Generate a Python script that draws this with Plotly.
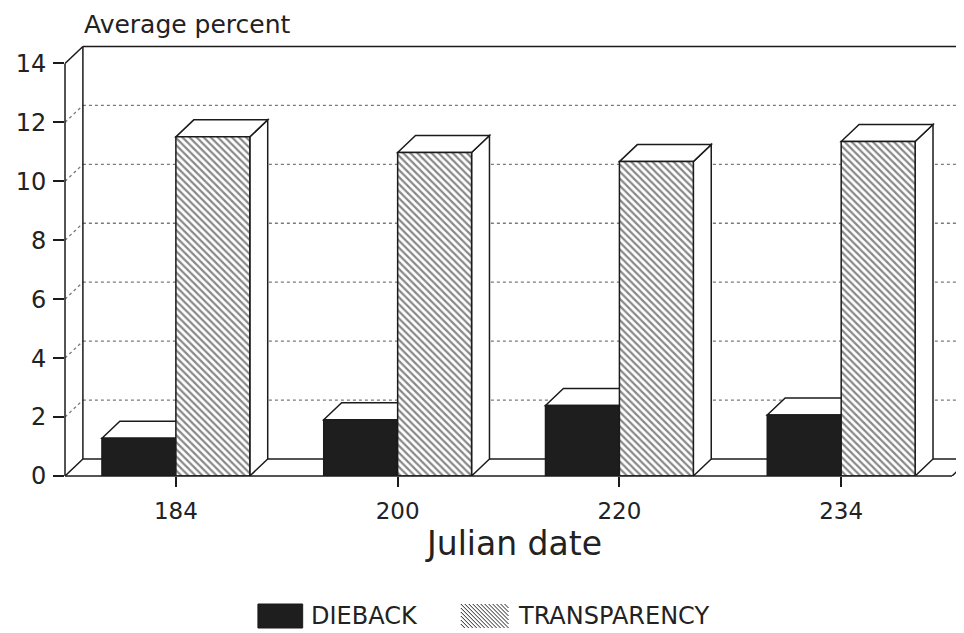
import plotly.graph_objects as go

# ---------------- data ----------------
categories = ["184", "200", "220", "234"]
dieback = [1.28, 1.91, 2.39, 2.07]
transparency = [11.51, 10.98, 10.67, 11.35]
y_ticks = [0, 2, 4, 6, 8, 10, 12, 14]
series_names = ["DIEBACK", "TRANSPARENCY"]

# ---------------- layout constants ----------------
W, H = 964, 633
OFF = 8                      # page body margin offset
PL, PT = 60 - OFF, 34 - OFF
PW, PH = 904, 442
PR, PB = W - PL - PW, H - PT - PH
PX_PER_CAT = 223.0
X_MIN = -0.5
X_MAX = X_MIN + PW / PX_PER_CAT
Y_MIN, Y_MAX = 0, 15
PX_PER_UNIT = PH / (Y_MAX - Y_MIN)
BARGAP = 1 / 3
BAR_W = (1 - BARGAP) / 2
DEPTH_X = 18 / PX_PER_CAT      # 3-D depth in data units
DEPTH_Y = 17 / PX_PER_UNIT
X_LO, X_HI = -0.5, len(categories) - 0.5
Y_TOP = max(y_ticks)

INK = "#1b1b1b"
GRID = "#7a7a7a"
FONT = "DejaVu Sans"

xpos = list(range(len(categories)))

fig = go.Figure()
fig.add_trace(go.Bar(
    x=xpos, y=dieback, name=series_names[0], showlegend=False,
    marker=dict(color="#1e1e1e", line=dict(color=INK, width=1.5)),
))
fig.add_trace(go.Bar(
    x=xpos, y=transparency, name=series_names[1], showlegend=False,
    marker=dict(color="white", line=dict(color=INK, width=1.5),
                pattern=dict(shape="\\", fgcolor="#111111", bgcolor="white",
                             size=5, solidity=0.45)),
))

shapes = []
line_solid = dict(color=INK, width=1.5)
line_dot = dict(color=GRID, width=1.3, dash="dot")

# back-wall grid lines and left-wall diagonals
for v in y_ticks[1:-1]:
    shapes.append(dict(type="line", xref="x", yref="y", layer="below",
                       x0=X_LO + DEPTH_X, x1=X_MAX + 1, y0=v + DEPTH_Y, y1=v + DEPTH_Y,
                       line=line_dot))
    shapes.append(dict(type="line", xref="x", yref="y", layer="below",
                       x0=X_LO, x1=X_LO + DEPTH_X, y0=v, y1=v + DEPTH_Y,
                       line=line_dot))

# walls and floor edges
shapes += [
    dict(type="line", xref="x", yref="y", layer="below",
         x0=X_LO + DEPTH_X, x1=X_LO + DEPTH_X, y0=DEPTH_Y, y1=Y_TOP + DEPTH_Y, line=line_solid),
    dict(type="line", xref="x", yref="y", layer="below",
         x0=X_LO + DEPTH_X, x1=X_MAX + 1, y0=Y_TOP + DEPTH_Y, y1=Y_TOP + DEPTH_Y, line=line_solid),
    dict(type="line", xref="x", yref="y", layer="below",
         x0=X_LO, x1=X_LO + DEPTH_X, y0=Y_TOP, y1=Y_TOP + DEPTH_Y, line=line_solid),
    dict(type="line", xref="x", yref="y", layer="below",
         x0=X_LO + DEPTH_X, x1=X_HI + DEPTH_X, y0=DEPTH_Y, y1=DEPTH_Y, line=line_solid),
    dict(type="line", xref="x", yref="y", layer="below",
         x0=X_LO, x1=X_LO + DEPTH_X, y0=0, y1=DEPTH_Y, line=line_solid),
    dict(type="line", xref="x", yref="y", layer="below",
         x0=X_HI, x1=X_HI + DEPTH_X, y0=0, y1=DEPTH_Y, line=line_solid),
]

def poly(pts):
    d = "M " + " L ".join(f"{x:.5f},{y:.5f}" for x, y in pts) + " Z"
    return dict(type="path", xref="x", yref="y", layer="below", path=d,
                fillcolor="white", line=dict(color=INK, width=1.5))

for i, (vd, vt) in enumerate(zip(dieback, transparency)):
    d0, d1 = i - BAR_W, i
    t0, t1 = i, i + BAR_W
    shapes.append(poly([(t1, 0), (t1 + DEPTH_X, DEPTH_Y), (t1 + DEPTH_X, vt + DEPTH_Y), (t1, vt)]))
    shapes.append(poly([(t0, vt), (t0 + DEPTH_X, vt + DEPTH_Y), (t1 + DEPTH_X, vt + DEPTH_Y), (t1, vt)]))
    shapes.append(poly([(d0, vd), (d0 + DEPTH_X, vd + DEPTH_Y), (d1 + DEPTH_X, vd + DEPTH_Y), (d1, vd)]))

# front floor edge and front axis line
shapes.append(dict(type="line", xref="x", yref="paper", layer="above",
                   x0=X_LO, x1=X_HI, y0=0, y1=0, line=line_solid))
shapes.append(dict(type="line", xref="paper", yref="y", layer="above",
                   x0=0, x1=0, y0=0, y1=Y_TOP, line=line_solid))

# ---------------- custom legend (window pixel -> paper) ----------------
def px_x(p):
    return (p - OFF - PL) / PW

def px_y(p):
    return (PT + PH - (p - OFF)) / PH

shapes.append(dict(type="rect", xref="paper", yref="paper",
                   x0=px_x(254), x1=px_x(299), y0=px_y(628), y1=px_y(604),
                   fillcolor="#1e1e1e", line=dict(color=INK, width=1)))

hx0, hx1, hy0, hy1 = 458, 506, 604, 628
segs = []
step = 4.0
c = hx0 - hy1
while c < hx1 - hy0:
    ys = max(hy0, hx0 - c)
    ye = min(hy1, hx1 - c)
    if ye > ys:
        segs.append(f"M {px_x(ys + c):.5f},{px_y(ys):.5f} L {px_x(ye + c):.5f},{px_y(ye):.5f}")
    c += step
shapes.append(dict(type="path", xref="paper", yref="paper", path=" ".join(segs),
                   line=dict(color="#222222", width=1)))

annotations = [
    dict(text="Average percent", xref="paper", yref="paper", x=px_x(77), y=px_y(24),
         xanchor="left", yanchor="middle", showarrow=False,
         font=dict(family=FONT, size=25, color="#222")),
    dict(text=series_names[0], xref="paper", yref="paper", x=px_x(305), y=px_y(616),
         xanchor="left", yanchor="middle", showarrow=False,
         font=dict(family=FONT, size=24, color="#222")),
    dict(text=series_names[1], xref="paper", yref="paper", x=px_x(514), y=px_y(616),
         xanchor="left", yanchor="middle", showarrow=False,
         font=dict(family=FONT, size=24, color="#222")),
]

fig.update_layout(
    width=W, height=H,
    margin=dict(l=PL, r=PR, t=PT, b=PB, pad=0),
    paper_bgcolor="white", plot_bgcolor="white",
    barmode="group", bargap=BARGAP, bargroupgap=0,
    showlegend=False, hovermode=False,
    font=dict(family=FONT, color="#222"),
    shapes=shapes, annotations=annotations,
    xaxis=dict(range=[X_MIN, X_MAX], tickvals=xpos, ticktext=categories,
               showgrid=False, zeroline=False, showline=False,
               ticks="outside", ticklen=10, tickwidth=1.5, tickcolor=INK,
               tickfont=dict(family=FONT, size=23, color="#222"),
               ticklabelstandoff=4,
               title=dict(text="Julian date", font=dict(family=FONT, size=33, color="#222"),
                          standoff=8),
               fixedrange=True),
    yaxis=dict(range=[Y_MIN, Y_MAX], tickvals=y_ticks,
               showgrid=False, zeroline=False, showline=False,
               ticks="outside", ticklen=11, tickwidth=1.5, tickcolor=INK,
               tickfont=dict(family=FONT, size=24, color="#222"),
               ticklabelstandoff=2, fixedrange=True),
)

fig.write_html("out.html")
